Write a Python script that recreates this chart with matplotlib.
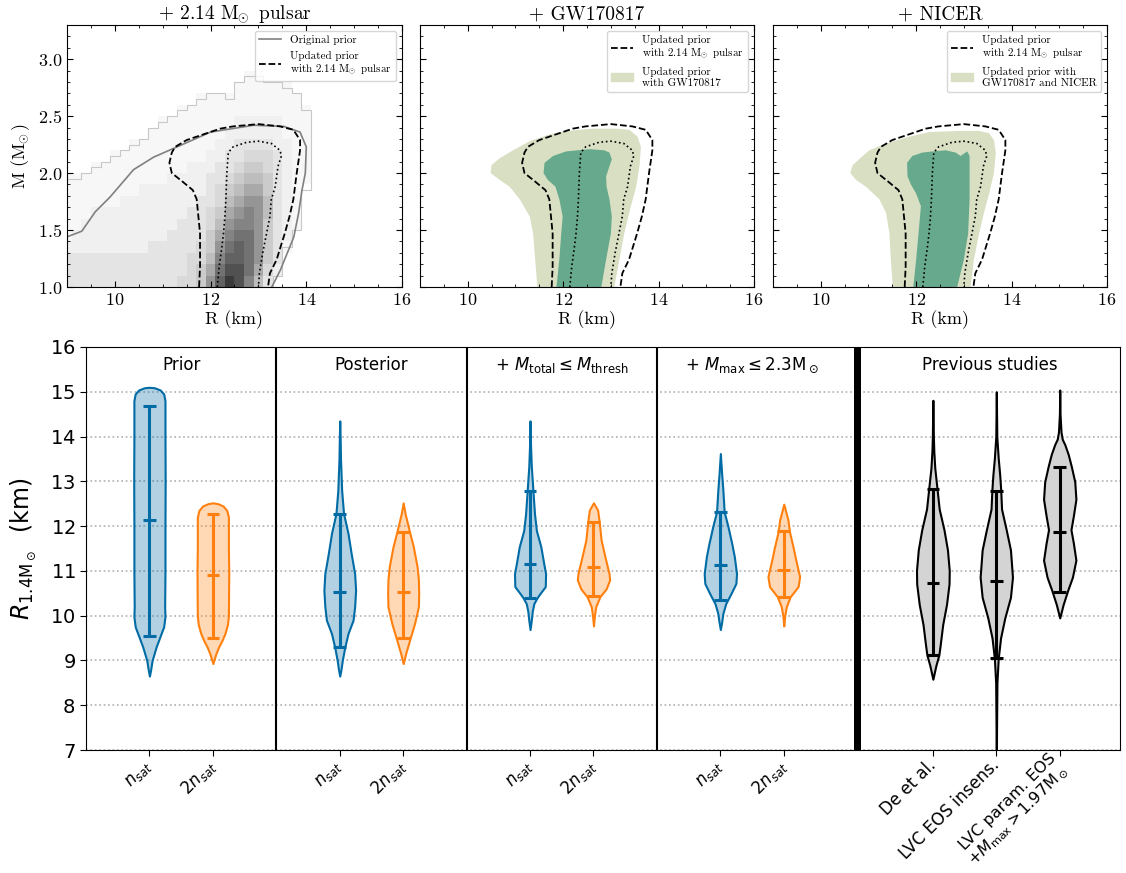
import matplotlib
matplotlib.use("Agg")
import matplotlib.pyplot as plt
import numpy as np
from matplotlib.colors import to_rgba
from matplotlib.lines import Line2D
from matplotlib.patches import Patch
from matplotlib.ticker import MultipleLocator

plt.rcParams["axes.formatter.use_mathtext"] = True

# ---------------- top row: mass-radius data (R in km, M in Msun) ----------------
# 2D histogram of the original prior: rows from M = 1.0 upwards, one hex digit per cell
hist_R_edges = np.round(np.arange(8.9, 14.15, 0.2), 1)
hist_M_edges = np.round(np.arange(1.0, 2.95, 0.1), 1)
hist_rows = [
    "3333333333334458bdc9630000",
    "3333333333333457acca742000",
    "33333333333334469bba853000",
    "22222222233333458aba853100",
    "122222222223333579aa853200",
    "11222222222233346899853210",
    "11122222222223345789863210",
    "11111122222222334678863210",
    "11111111222222234567753210",
    "11111111111222233456653211",
    "00011111111112223345543211",
    "00000111111111122334443211",
    "00000001111111112233332211",
    "00000000011111111222222111",
    "00000000001111111122222111",
    "00000000000011111111111111",
    "00000000000000111111111110",
    "00000000000000000011111100",
    "00000000000000000001100000",
]
# outline of the non-empty bins
hist_top = [1.95, 1.95, 2.0, 2.05, 2.1, 2.15, 2.2, 2.25, 2.3, 2.4, 2.45, 2.5, 2.55,
            2.6, 2.65, 2.7, 2.7, 2.65, 2.8, 2.85, 2.85, 2.8, 2.8, 2.75, 2.7, 2.55]
hist_right_M = [1.0, 1.1, 1.35, 1.5, 1.85, 2.55]
hist_right_R = [13.3, 13.5, 13.7, 13.9, 14.1]

orig_R = [9.00, 9.31, 9.59, 9.90, 10.39, 10.81, 11.30, 12.00, 12.90, 13.53, 13.87,
          14.00, 13.98, 13.91, 13.84, 13.74, 13.46, 13.28]
orig_M = [1.44, 1.49, 1.66, 1.79, 2.03, 2.14, 2.23, 2.36, 2.42, 2.41, 2.36,
          2.23, 2.00, 1.85, 1.65, 1.44, 1.15, 1.00]

pulsar90_R = [11.76, 11.78, 11.78, 11.71, 11.63, 11.40, 11.19, 11.14, 11.19, 11.26, 11.50,
              11.92, 12.20, 12.47, 13.00, 13.45, 13.73, 13.87, 13.87, 13.80, 13.73, 13.65,
              13.55, 13.38, 13.24, 13.20]
pulsar90_M = [1.00, 1.18, 1.47, 1.77, 1.85, 1.93, 2.00, 2.09, 2.18, 2.23, 2.29,
              2.35, 2.39, 2.41, 2.43, 2.41, 2.38, 2.29, 2.20, 2.00, 1.77, 1.62,
              1.47, 1.24, 1.12, 1.00]
pulsar50_R = [12.14, 12.18, 12.23, 12.27, 12.30, 12.32, 12.34, 12.37, 12.47, 12.75, 13.00,
              13.27, 13.45, 13.48, 13.41, 13.35, 13.27, 13.24, 13.17, 13.09, 13.02, 13.00]
pulsar50_M = [1.00, 1.18, 1.33, 1.47, 1.62, 1.77, 2.00, 2.18, 2.23, 2.27, 2.28,
              2.26, 2.20, 2.15, 2.06, 1.88, 1.77, 1.62, 1.47, 1.30, 1.12, 1.00]

gw90_R = [11.46, 11.37, 11.30, 11.09, 10.88, 10.67, 10.48, 10.50, 10.67, 10.95, 11.30, 11.72,
          12.06, 12.62, 13.11, 13.39, 13.56, 13.63, 13.60, 13.53, 13.42, 13.28, 13.18, 13.07]
gw90_M = [1.00, 1.47, 1.62, 1.77, 1.88, 1.94, 2.00, 2.07, 2.13, 2.20, 2.28, 2.34,
          2.37, 2.39, 2.39, 2.38, 2.32, 2.23, 2.06, 1.88, 1.71, 1.47, 1.24, 1.00]
gw50_R = [11.86, 11.92, 11.96, 11.99, 11.92, 11.84, 11.68, 11.59, 11.61, 11.79, 12.06, 12.55,
          12.86, 12.97, 13.02, 12.97, 12.90, 12.91, 12.97, 13.02, 13.00, 12.90, 12.80]
gw50_M = [1.00, 1.24, 1.47, 1.62, 1.77, 1.88, 1.94, 2.00, 2.09, 2.15, 2.19, 2.21,
          2.20, 2.18, 2.12, 2.06, 1.97, 1.88, 1.77, 1.62, 1.47, 1.24, 1.00]

nicer90_R = [11.51, 11.47, 11.44, 11.37, 11.23, 10.95, 10.74, 10.62, 10.67, 10.88, 11.02, 11.37,
             11.86, 12.27, 12.90, 13.32, 13.53, 13.63, 13.67, 13.63, 13.53, 13.42, 13.32,
             13.21, 13.14]
nicer90_M = [1.00, 1.24, 1.47, 1.65, 1.77, 1.88, 1.94, 2.00, 2.07, 2.15, 2.20, 2.26,
             2.32, 2.36, 2.37, 2.37, 2.35, 2.29, 2.18, 2.00, 1.82, 1.65, 1.47, 1.24, 1.00]
nicer50_R = [11.94, 12.00, 12.05, 12.10, 12.00, 11.89, 11.82, 11.81, 11.92, 12.13, 12.34,
             12.62, 12.83, 12.93, 13.07, 13.12, 13.12, 13.12, 13.09, 13.00, 12.86]
nicer50_M = [1.00, 1.24, 1.47, 1.71, 1.82, 1.90, 1.97, 2.09, 2.15, 2.18, 2.19,
             2.20, 2.18, 2.15, 2.19, 2.15, 2.00, 1.77, 1.47, 1.24, 1.00]

# ---------------- bottom row: R_1.4 violins ----------------
section_titles = ["Prior", "Posterior", r"+ $M_{\rm total} \leq M_{\rm thresh}$",
                  r"+ $M_{\rm max} \leq 2.3{\rm M}_\odot$", "Previous studies"]
violin_labels = [r"$n_{sat}$", r"$2n_{sat}$"] * 4 + [
    "De et al.", "LVC EOS insens.", "LVC param. EOS\n" + r"+$M_{\rm max} > 1.97{\rm M}_\odot$"]

# violin outlines: radius grid (top to bottom) and half-width
violin_y = [
    [15.10, 15.09, 15.04, 14.95, 14.8, 14.0, 13.0, 12.0, 11.0, 10.2, 9.98, 9.75, 9.6, 9.3, 9.0, 8.8, 8.65],
    [12.52, 12.50, 12.45, 12.35, 12.2, 11.5, 11.0, 10.5, 10.0, 9.8, 9.6, 9.45, 9.3, 9.16, 9.05, 8.93],
    [14.35, 14.0, 13.5, 13.2, 12.8, 12.28, 11.84, 11.39, 10.94, 10.57, 10.2, 9.9, 9.6, 9.3, 9.0, 8.8, 8.65],
    [12.52, 12.28, 11.87, 11.54, 11.09, 10.8, 10.5, 10.2, 9.83, 9.45, 9.16, 8.93],
    [14.35, 13.8, 13.33, 12.8, 12.28, 11.9, 11.54, 11.17, 10.94, 10.65, 10.5, 10.4, 10.27, 10.1, 9.9, 9.69],
    [12.52, 12.36, 12.1, 11.69, 11.32, 10.94, 10.8, 10.6, 10.42, 10.2, 10.0, 9.77],
    [13.62, 13.18, 12.8, 12.32, 11.99, 11.61, 11.32, 10.94, 10.72, 10.5, 10.27, 10.05, 9.85, 9.69],
    [12.49, 12.14, 11.87, 11.54, 11.24, 10.87, 10.65, 10.42, 10.2, 10.0, 9.77],
    [14.81, 14.0, 13.67, 13.3, 12.84, 12.38, 11.92, 11.47, 11.01, 10.71, 10.25, 9.80, 9.34, 9.12, 8.89, 8.58],
    [15.0, 14.0, 13.52, 13.14, 12.8, 12.38, 11.92, 11.47, 10.86, 10.41, 9.95, 9.5, 9.04, 8.5, 7.5, 6.5],
    [15.04, 14.5, 14.1, 13.94, 13.82, 13.6, 13.33, 12.99, 12.6, 12.23, 11.92, 11.62, 11.24, 10.86,
     10.56, 10.25, 9.95],
]
violin_w = [
    [0.0, 0.08, 0.17, 0.225, 0.245, 0.245, 0.248, 0.245, 0.245, 0.24, 0.245, 0.224, 0.184, 0.105, 0.042, 0.02, 0.0],
    [0.0, 0.08, 0.16, 0.22, 0.245, 0.245, 0.25, 0.248, 0.245, 0.23, 0.19, 0.145, 0.09, 0.05, 0.025, 0.0],
    [0.0, 0.006, 0.012, 0.02, 0.03, 0.06, 0.13, 0.18, 0.235, 0.25, 0.235, 0.21, 0.13, 0.08, 0.04, 0.02, 0.0],
    [0.0, 0.03, 0.1, 0.16, 0.22, 0.24, 0.245, 0.24, 0.18, 0.1, 0.04, 0.0],
    [0.0, 0.008, 0.02, 0.045, 0.07, 0.1, 0.17, 0.215, 0.245, 0.24, 0.16, 0.11, 0.06, 0.035, 0.02, 0.0],
    [0.0, 0.065, 0.09, 0.12, 0.18, 0.245, 0.255, 0.2, 0.1, 0.035, 0.015, 0.0],
    [0.0, 0.02, 0.04, 0.06, 0.12, 0.18, 0.22, 0.255, 0.245, 0.17, 0.085, 0.04, 0.02, 0.0],
    [0.0, 0.065, 0.09, 0.145, 0.19, 0.25, 0.225, 0.1, 0.04, 0.015, 0.0],
    [0.0, 0.008, 0.015, 0.03, 0.065, 0.10, 0.175, 0.23, 0.258, 0.255, 0.215, 0.155, 0.115, 0.094, 0.048, 0.0],
    [0.0, 0.008, 0.03, 0.054, 0.07, 0.083, 0.156, 0.223, 0.255, 0.223, 0.134, 0.067, 0.03, 0.01, 0.004, 0.0],
    [0.0, 0.005, 0.02, 0.04, 0.08, 0.134, 0.183, 0.237, 0.255, 0.215, 0.177, 0.215, 0.255, 0.2,
     0.124, 0.054, 0.0],
]
q_low = [9.54, 9.51, 9.29, 9.50, 10.40, 10.44, 10.36, 10.42, 9.13, 9.06, 10.52]
q_med = [12.14, 10.90, 10.52, 10.53, 11.16, 11.08, 11.13, 11.02, 10.73, 10.77, 11.87]
q_high = [14.68, 12.28, 12.28, 11.87, 12.79, 12.10, 12.32, 11.89, 12.82, 12.78, 13.33]

positions = [0, 1, 3, 4, 6, 7, 9, 10, 12.35, 13.35, 14.35]
title_x = [0.5, 3.5, 6.5, 9.5, 13.25]
separators = [2, 5, 8]

blue, orange = "#006BA4", "#FF800E"
light_green, dark_green = "#d8dfc3", "#66a98c"
serif = "cmr10"
msun = r"$\mathrm{M}_{\!\!\odot}$"

fig = plt.figure(figsize=(11.26, 8.73), dpi=100)
W, H = 1126, 873


def rect(x0, y0, x1, y1):
    return [x0 / W, 1 - y1 / H, (x1 - x0) / W, (y1 - y0) / H]


ax1 = fig.add_axes(rect(67, 25, 402, 287))
ax2 = fig.add_axes(rect(420, 25, 754, 287))
ax3 = fig.add_axes(rect(773, 25, 1107, 287))
axb = fig.add_axes(rect(86, 347, 1120, 750))

# panel 1: histogram of the prior plus contours
counts = np.array([[int(c, 16) for c in row] for row in hist_rows])
ax1.pcolormesh(hist_R_edges, hist_M_edges, np.ma.masked_equal(counts, 0),
               cmap="Greys", vmin=0, vmax=16)
ax1.stairs(hist_top, hist_R_edges, baseline=None, color="#c8c8c8", lw=0.8)
ax1.stairs(hist_right_R, hist_right_M, orientation="horizontal", baseline=None,
           color="#c8c8c8", lw=0.8)
ax1.plot(orig_R, orig_M, color="gray", lw=1.2)

# panels 2 and 3: filled credible regions
ax2.fill(gw90_R, gw90_M, color=light_green, lw=0)
ax2.fill(gw50_R, gw50_M, color=dark_green, lw=0)
ax3.fill(nicer90_R, nicer90_M, color=light_green, lw=0)
ax3.fill(nicer50_R, nicer50_M, color=dark_green, lw=0)

for ax in (ax1, ax2, ax3):
    ax.plot(pulsar90_R, pulsar90_M, color="k", ls="--", lw=1.3)
    ax.plot(pulsar50_R, pulsar50_M, color="k", ls=":", lw=1.2)
    ax.set_xlim(9, 16)
    ax.set_ylim(1.0, 3.3)
    ax.set_xticks([10, 12, 14, 16])
    ax.set_yticks([1.0, 1.5, 2.0, 2.5, 3.0])
    ax.xaxis.set_minor_locator(MultipleLocator(0.5))
    ax.yaxis.set_minor_locator(MultipleLocator(0.1))
    ax.tick_params(which="both", direction="in", top=True, right=True,
                   labelsize=13, labelfontfamily=serif)
    ax.tick_params(which="major", length=4.5)
    ax.tick_params(which="minor", length=2.5)
    ax.set_xlabel("R (km)", fontsize=13, fontfamily=serif, labelpad=2)

ax2.tick_params(labelleft=False)
ax3.tick_params(labelleft=False)
ax1.set_ylabel("M (" + msun + ")", fontsize=13, fontfamily=serif, math_fontfamily="cm")

ax1.set_title("+ 2.14 " + msun + " pulsar", fontsize=14, fontfamily=serif,
              math_fontfamily="cm", pad=4)
ax2.set_title("+ GW170817", fontsize=14, fontfamily=serif, pad=4)
ax3.set_title("+ NICER", fontsize=14, fontfamily=serif, pad=4)

leg_prop = {"family": serif, "size": 8, "math_fontfamily": "cm"}
pulsar_handle = Line2D([], [], color="k", ls="--", lw=1.3)
pulsar_label = "Updated prior\nwith 2.14 " + msun + " pulsar"
ax1.legend([Line2D([], [], color="gray", lw=1.2), pulsar_handle],
           ["Original prior", pulsar_label], loc="upper right", prop=leg_prop)
ax2.legend([pulsar_handle, Patch(color=light_green)],
           [pulsar_label, "Updated prior\nwith GW170817"], loc="upper right", prop=leg_prop)
ax3.legend([pulsar_handle, Patch(color=light_green)],
           [pulsar_label, "Updated prior with\nGW170817 and NICER"], loc="upper right",
           prop=leg_prop)

# bottom: violins
for i, pos in enumerate(positions):
    if i < 8:
        edge = blue if i % 2 == 0 else orange
        face = to_rgba(edge, 0.3)
    else:
        edge = "k"
        face = "#d4d4d4"
    y = np.array(violin_y[i])
    w = np.array(violin_w[i])
    axb.fill_betweenx(y, pos - w, pos + w, facecolor=face, edgecolor=edge, lw=1.5, zorder=2)
    axb.vlines(pos, q_low[i], q_high[i], color=edge, lw=2.2, zorder=3)
    axb.hlines([q_low[i], q_med[i], q_high[i]], pos - 0.1, pos + 0.1, color=edge,
               lw=2.2, zorder=3)

for s in separators:
    axb.axvline(s, color="k", lw=1.5)
axb.axvspan(11.1, 11.21, color="k", lw=0)

for x, t in zip(title_x, section_titles):
    axb.text(x, 15.6, t, ha="center", va="center", fontsize=12)

axb.set_xlim(-1, 15.3)
axb.set_ylim(7, 16)
axb.set_yticks(range(7, 17))
axb.set_axisbelow(True)
axb.yaxis.grid(True, ls=":", color="#b0b0b0", lw=1.2)
axb.set_xticks(positions)
tick_texts = axb.set_xticklabels(violin_labels, rotation=45, ha="right", va="center",
                                 rotation_mode="anchor", fontsize=12, linespacing=1.0)
tick_texts[-1].set_fontsize(11.5)
axb.tick_params(axis="x", pad=5)
axb.tick_params(axis="y", labelsize=14)
axb.tick_params(axis="both", length=4)
axb.set_ylabel(r"$R_{1.4\mathrm{M}_\odot}$  (km)", fontsize=17, labelpad=8)

fig.savefig("out.png", dpi=100)
